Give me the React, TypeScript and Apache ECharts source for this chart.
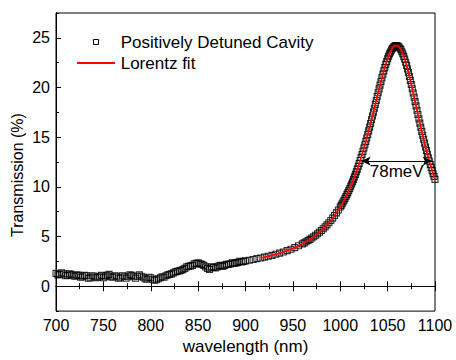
import React, { useEffect, useRef } from "react";
import * as echarts from "echarts";

// Measured spectrum (wavelength in nm, transmission in %)
const wavelengths: number[] = [
  700, 702, 704, 706, 708, 710, 712, 714, 716, 718, 720, 722, 724, 726, 728, 730,
  732, 734, 736, 738, 740, 742, 744, 746, 748, 750, 752, 754, 756, 758, 760, 762,
  764, 766, 768, 770, 772, 774, 776, 778, 780, 782, 784, 786, 788, 790, 792, 794,
  796, 798, 800, 802, 804, 806, 808, 810, 812, 814, 816, 818, 820, 822, 824, 826,
  828, 830, 832, 834, 836, 838, 840, 842, 844, 846, 848, 850, 852, 854, 856, 858,
  860, 862, 864, 866, 868, 870, 872, 874, 876, 878, 880, 882, 884, 886, 888, 890,
  892, 894, 896, 898, 900,
  904, 908, 912, 916, 920, 924, 928, 932, 936, 940, 944, 948, 952, 956,
  960, 962, 964, 966, 968, 970, 972, 974, 976, 978, 980, 982, 984, 986, 988, 990,
  992, 994, 996, 998,
  1000, 1001, 1002, 1003, 1004, 1005, 1006, 1007, 1008, 1009, 1010, 1011, 1012, 1013,
  1014, 1015, 1016, 1017, 1018, 1019, 1020, 1021, 1022, 1023, 1024, 1025, 1026, 1027,
  1028, 1029, 1030, 1031, 1032, 1033, 1034, 1035, 1036, 1037, 1038, 1039, 1040, 1041,
  1042, 1043, 1044, 1045, 1046, 1047, 1048, 1049, 1050, 1051, 1052, 1053, 1054, 1055,
  1056, 1057, 1058, 1059, 1060, 1061, 1062, 1063, 1064, 1065, 1066, 1067, 1068, 1069,
  1070, 1071, 1072, 1073, 1074, 1075, 1076, 1077, 1078, 1079, 1080, 1081, 1082, 1083,
  1084, 1085, 1086, 1087, 1088, 1089, 1090, 1091, 1092, 1093, 1094, 1095, 1096, 1097,
  1098, 1099, 1100,
];
const transmission: number[] = [
  1.3, 1.15, 1.2, 1.35, 1.25, 1.05, 1.1, 1.25, 1.2, 1.05, 1.0, 1.15, 1.1, 0.9, 0.95, 1.1,
  1.05, 0.8, 0.85, 1.05, 1.0, 0.85, 0.9, 1.0, 1.1, 0.85, 0.95, 1.1, 1.2, 0.95, 0.9, 1.05,
  1.0, 0.8, 0.85, 1.05, 1.0, 0.8, 0.95, 1.15, 1.1, 0.95, 0.8, 1.0, 1.15, 1.0, 0.9, 0.75,
  0.7, 0.9, 0.85, 0.7, 0.6, 0.65, 0.75, 0.85, 0.95, 0.9, 1.05, 1.15, 1.2, 1.25, 1.35, 1.45,
  1.5, 1.55, 1.6, 1.7, 1.8, 1.95, 2.0, 2.05, 2.1, 2.25, 2.3, 2.35, 2.25, 2.2, 2.1, 1.95,
  1.8, 1.7, 1.95, 1.9, 1.85, 1.95, 2.05, 2.1, 2.0, 2.1, 2.2, 2.2, 2.25, 2.35, 2.3, 2.35,
  2.4, 2.5, 2.45, 2.5, 2.55,
  2.62, 2.7, 2.78, 2.85, 2.93, 3.02, 3.11, 3.22, 3.33, 3.45, 3.59, 3.73, 3.89, 4.07,
  4.27, 4.37, 4.48, 4.6, 4.72, 4.85, 4.98, 5.13, 5.28, 5.44, 5.61, 5.79, 5.98, 6.18, 6.39, 6.62,
  6.86, 7.12, 7.39, 7.68,
  7.98, 8.14, 8.31, 8.48, 8.66, 8.84, 9.03, 9.22, 9.42, 9.63, 9.84, 10.06, 10.29, 10.52,
  10.76, 11.01, 11.26, 11.52, 11.79, 12.07, 12.36, 12.65, 12.95, 13.26, 13.58, 13.91, 14.24, 14.58,
  14.92, 15.28, 15.64, 16.01, 16.38, 16.76, 17.14, 17.52, 17.91, 18.3, 18.7, 19.09, 19.48, 19.86,
  20.24, 20.61, 20.98, 21.33, 21.68, 22.0, 22.33, 22.61, 22.9, 23.14, 23.39, 23.58, 23.78, 23.92,
  24.06, 24.13, 24.21, 24.22, 24.2, 24.14, 24.08, 23.95, 23.81, 23.6, 23.4, 23.13, 22.87, 22.55,
  22.23, 21.87, 21.51, 21.11, 20.72, 20.3, 19.88, 19.45, 19.02, 18.58, 18.15, 17.71, 17.28, 16.85,
  16.42, 16.0, 15.59, 15.19, 14.79, 14.4, 14.02, 13.65, 13.29, 12.94, 12.6, 12.27, 11.95, 11.64,
  11.33, 11.04, 10.76,
];

// Lorentz fit curve
const fitWavelengths: number[] = [
  916, 920, 924, 928, 932, 936, 940, 944, 948, 952, 956, 960, 964, 968, 972, 976, 980,
  984, 988, 992, 996,
  1000, 1002, 1004, 1006, 1008, 1010, 1012, 1014, 1016, 1018, 1020, 1022, 1024, 1026,
  1028, 1030, 1032, 1034, 1036, 1038, 1040, 1042, 1044, 1046, 1048, 1050, 1052, 1054,
  1056, 1058, 1060, 1062, 1064, 1066, 1068, 1070, 1072, 1074, 1076, 1078, 1080, 1082,
  1084, 1086, 1088, 1090, 1092, 1094, 1096, 1098, 1100,
];
const fitValues: number[] = [
  2.85, 2.93, 3.02, 3.11, 3.22, 3.33, 3.45, 3.59, 3.73, 3.89, 4.07, 4.27, 4.48, 4.72, 4.98, 5.28, 5.61,
  5.98, 6.39, 6.86, 7.39,
  7.98, 8.31, 8.66, 9.03, 9.42, 9.84, 10.29, 10.76, 11.26, 11.79, 12.36, 12.95, 13.58, 14.24,
  14.92, 15.64, 16.38, 17.14, 17.91, 18.7, 19.48, 20.24, 20.98, 21.68, 22.33, 22.9, 23.39, 23.78,
  24.06, 24.21, 24.2, 24.08, 23.81, 23.4, 22.87, 22.23, 21.51, 20.72, 19.88, 19.02, 18.15, 17.28,
  16.42, 15.59, 14.79, 14.02, 13.29, 12.6, 11.95, 11.33, 10.76,
];

// FWHM annotation
const fwhmStart: [number, number] = [1022.6, 12.6];
const fwhmEnd: [number, number] = [1096.5, 12.6];
const fwhmLabel = "78meV";

const yLabelValues = [0, 5, 10, 15, 20, 25];
const seriesNames = ["Positively Detuned Cavity", "Lorentz fit"];

const FONT = "'Liberation Sans', Arial, Helvetica, sans-serif";

export default function App() {
  const ref = useRef<HTMLDivElement>(null);
  useEffect(() => {
    if (!ref.current) return;
    const chart = echarts.init(ref.current, undefined, { renderer: "svg" });
    const dataPts = wavelengths.map((w, i) => [w, transmission[i]]);
    const fitPts = fitWavelengths.map((w, i) => [w, fitValues[i]]);
    const axisLine = { show: true, lineStyle: { color: "#000", width: 1 } };
    chart.setOption({
      animation: false,
      backgroundColor: "#fff",
      textStyle: { fontFamily: FONT },
      grid: {
        left: 56, top: 13, right: 21, bottom: 44,
        show: true, borderColor: "#000", borderWidth: 1, backgroundColor: "transparent",
      },
      xAxis: [
        {
          type: "value", min: 700, max: 1100, interval: 50, position: "bottom",
          axisLine,
          axisTick: { inside: true, length: 5, lineStyle: { color: "#000" } },
          minorTick: { show: true, splitNumber: 2, length: 3, lineStyle: { color: "#000" } },
          axisLabel: {
            color: "#000", fontSize: 16, fontFamily: FONT, margin: 6,
            formatter: (v: number) => String(v),
          },
          splitLine: { show: false },
          name: "wavelength (nm)", nameLocation: "middle", nameGap: 26,
          nameTextStyle: { color: "#000", fontSize: 17, fontFamily: FONT },
        },
        {
          type: "value", min: 700, max: 1100, interval: 50, position: "top",
          axisLine,
          axisTick: { inside: true, length: 5, lineStyle: { color: "#000" } },
          minorTick: { show: true, splitNumber: 2, length: 3, lineStyle: { color: "#000" } },
          axisLabel: { show: false },
          splitLine: { show: false },
        },
      ],
      yAxis: [
        {
          type: "value", min: -2.5, max: 27.5, position: "left",
          axisLine,
          axisTick: { inside: true, length: 5, customValues: yLabelValues, lineStyle: { color: "#000" } },
          axisLabel: {
            color: "#000", fontSize: 16, fontFamily: FONT, margin: 6, customValues: yLabelValues,
            formatter: (v: number) => String(v),
          },
          splitLine: { show: false },
        },
        {
          type: "value", min: -2.5, max: 27.5, interval: 5, position: "left",
          axisLine,
          axisTick: { inside: true, length: 3, lineStyle: { color: "#000" } },
          axisLabel: { show: false },
          splitLine: { show: false },
        },
      ],
      graphic: [
        {
          type: "text", x: 17.5, y: 175, rotation: Math.PI / 2,
          style: {
            text: "Transmission (%)", fill: "#000", fontSize: 16, fontFamily: FONT,
            align: "center", verticalAlign: "middle",
            textAlign: "center", textVerticalAlign: "middle",
          },
        },
        {
          type: "rect", shape: { x: 93.5, y: 39.5, width: 5, height: 5 },
          style: { fill: "none", stroke: "#000", lineWidth: 1 },
        },
        {
          type: "line", shape: { x1: 77, y1: 63, x2: 115, y2: 63 },
          style: { stroke: "#ff0000", lineWidth: 1.8 },
        },
        {
          type: "text", x: 120.7, y: 42,
          style: {
            text: seriesNames[0], fill: "#000", fontSize: 17, fontFamily: FONT,
            verticalAlign: "middle", textVerticalAlign: "middle",
          },
        },
        {
          type: "text", x: 120.7, y: 63,
          style: {
            text: seriesNames[1], fill: "#000", fontSize: 17, fontFamily: FONT,
            verticalAlign: "middle", textVerticalAlign: "middle",
          },
        },
      ],
      series: [
        {
          name: seriesNames[0],
          type: "scatter",
          xAxisIndex: 0, yAxisIndex: 0,
          symbol: "rect",
          symbolSize: 6,
          data: dataPts,
          itemStyle: { color: "rgba(255,255,255,0)", borderColor: "#000", borderWidth: 1.1 },
          z: 2,
          markLine: {
            silent: true,
            symbol: ["arrow", "arrow"],
            symbolSize: [7, 9],
            lineStyle: { color: "#000", width: 1, type: "solid" },
            label: {
              show: true, formatter: fwhmLabel, position: "insideMiddleBottom",
              color: "#000", fontSize: 17, fontFamily: FONT, distance: 2,
            },
            data: [[{ coord: fwhmStart }, { coord: fwhmEnd }]],
          },
        },
        {
          name: seriesNames[1],
          type: "line",
          xAxisIndex: 0, yAxisIndex: 0,
          data: fitPts,
          showSymbol: false,
          smooth: true,
          lineStyle: { color: "#ff0000", width: 1.8 },
          itemStyle: { color: "#ff0000" },
          z: 3,
        },
      ],
    });
    return () => chart.dispose();
  }, []);
  return (
    <div
      ref={ref}
      style={{ position: "fixed", left: 0, top: 0, width: 456, height: 360, background: "#fff" }}
    />
  );
}
